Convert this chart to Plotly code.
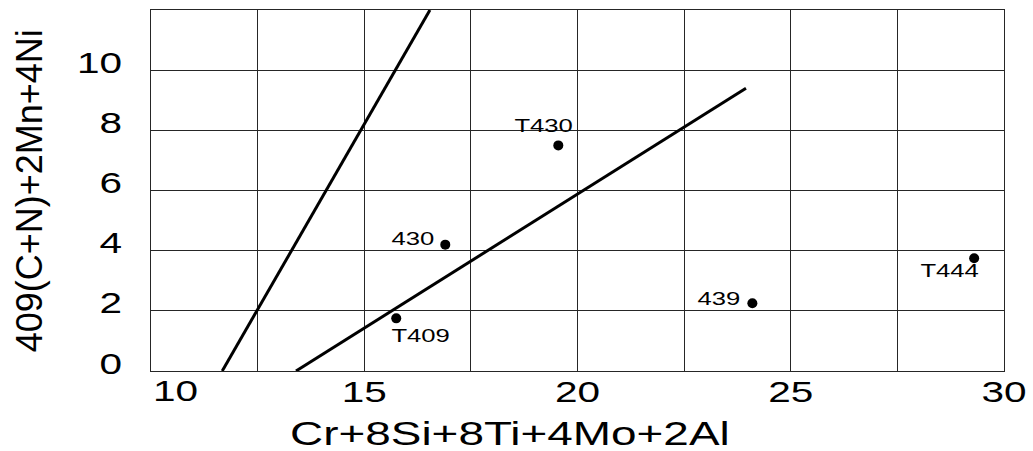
import plotly.graph_objects as go

# Steel grades: Cr-equivalent (x) against the C/N/Mn/Ni term (y)
grades = ["T430", "430", "T409", "439", "T444"]
cr_equiv = [19.55, 16.9, 15.75, 24.1, 29.3]
ni_term = [7.5, 4.2, 1.75, 2.25, 3.75]

# Two straight boundary lines, given by their end points
boundary_a_x = [11.67, 16.54]
boundary_a_y = [0.0, 12.0]
boundary_b_x = [13.4, 23.95]
boundary_b_y = [0.0, 9.4]

x_ticks = [10, 15, 20, 25, 30]
y_ticks = [0, 2, 4, 6, 8, 10]
x_range = [10, 30]
y_range = [0, 12]

x_title = "Cr+8Si+8Ti+4Mo+2Al"
y_title = "409(C+N)+2Mn+4Ni"

# label placement around each dot, in pixels (dx right, dy up)
label_offset = {
    "T430": (-15, 20),
    "430": (-32, 6),
    "T409": (24, -17),
    "439": (-33, 5),
    "T444": (-24, -12),
}

FONT = "Liberation Sans, Arial, sans-serif"
GRID = "#262626"

fig = go.Figure()
for bx, by in ((boundary_a_x, boundary_a_y), (boundary_b_x, boundary_b_y)):
    fig.add_trace(go.Scatter(
        x=bx, y=by, mode="lines",
        line=dict(color="black", width=3),
        showlegend=False, hoverinfo="skip",
    ))

fig.add_trace(go.Scatter(
    x=cr_equiv, y=ni_term, mode="markers", text=grades,
    marker=dict(color="black", size=10),
    showlegend=False,
))

annotations = []
for g, xv, yv in zip(grades, cr_equiv, ni_term):
    dx, dy = label_offset[g]
    annotations.append(dict(
        x=xv, y=yv, xref="x", yref="y", text=g, showarrow=False,
        xshift=dx, yshift=dy, xanchor="center", yanchor="middle",
        font=dict(family=FONT, size=19, color="black"),
    ))

# first x tick label sits flush with the left edge of the frame
annotations.append(dict(
    x=x_ticks[0], y=y_range[0], xref="x", yref="y", text=str(x_ticks[0]),
    showarrow=False, xanchor="left", yanchor="middle", align="left",
    xshift=0, yshift=-19,
    font=dict(family=FONT, size=30, color="black"),
))

annotations.append(dict(
    x=0.421, y=0, xref="paper", yref="paper", text=x_title, showarrow=False,
    xanchor="center", yanchor="middle", yshift=-62,
    font=dict(family=FONT, size=34, color="black"),
))
annotations.append(dict(
    x=-0.142, y=0.5, xref="paper", yref="paper", text=y_title, showarrow=False,
    textangle=-90, xanchor="center", yanchor="middle",
    font=dict(family=FONT, size=36, color="black"),
))

fig.update_xaxes(
    range=x_range,
    tickmode="array", tickvals=x_ticks[1:], ticktext=[str(v) for v in x_ticks[1:]],
    ticks="", showgrid=True, gridcolor=GRID, gridwidth=1,
    minor=dict(tickmode="array", tickvals=[v + 2.5 for v in x_ticks[:-1]],
               showgrid=True, gridcolor=GRID, gridwidth=1, ticks=""),
    showline=True, linecolor=GRID, linewidth=1, mirror=True, zeroline=False,
    tickfont=dict(family=FONT, size=30, color="black"),
    ticklabelstandoff=-6,
)
fig.update_yaxes(
    range=y_range,
    tickmode="array", tickvals=y_ticks, ticktext=[str(v) for v in y_ticks],
    ticks="", showgrid=True, gridcolor=GRID, gridwidth=1,
    showline=True, linecolor=GRID, linewidth=1, mirror=True, zeroline=False,
    tickfont=dict(family=FONT, size=30, color="black"),
    ticklabelshift=-8, ticklabelstandoff=22,
)

fig.update_layout(
    width=1033, height=451,
    margin=dict(l=151, r=29, t=10, b=80),
    paper_bgcolor="white", plot_bgcolor="white",
    annotations=annotations,
    showlegend=False,
)

# widen the horizontal labels (glyphs and spacing) to the chart's broad lettering
stretch_js = """
var gd = document.getElementById('{plot_id}');
var f = 1.35;
gd.querySelectorAll('.xtick text, .ytick text, text.annotation-text').forEach(function(t) {
  if (t.closest('[transform*="rotate(-90"]')) return;
  var w = t.getComputedTextLength();
  t.setAttribute('textLength', (w * f).toFixed(2));
  t.setAttribute('lengthAdjust', 'spacingAndGlyphs');
});
"""

fig.write_html("out.html", post_script=stretch_js)
